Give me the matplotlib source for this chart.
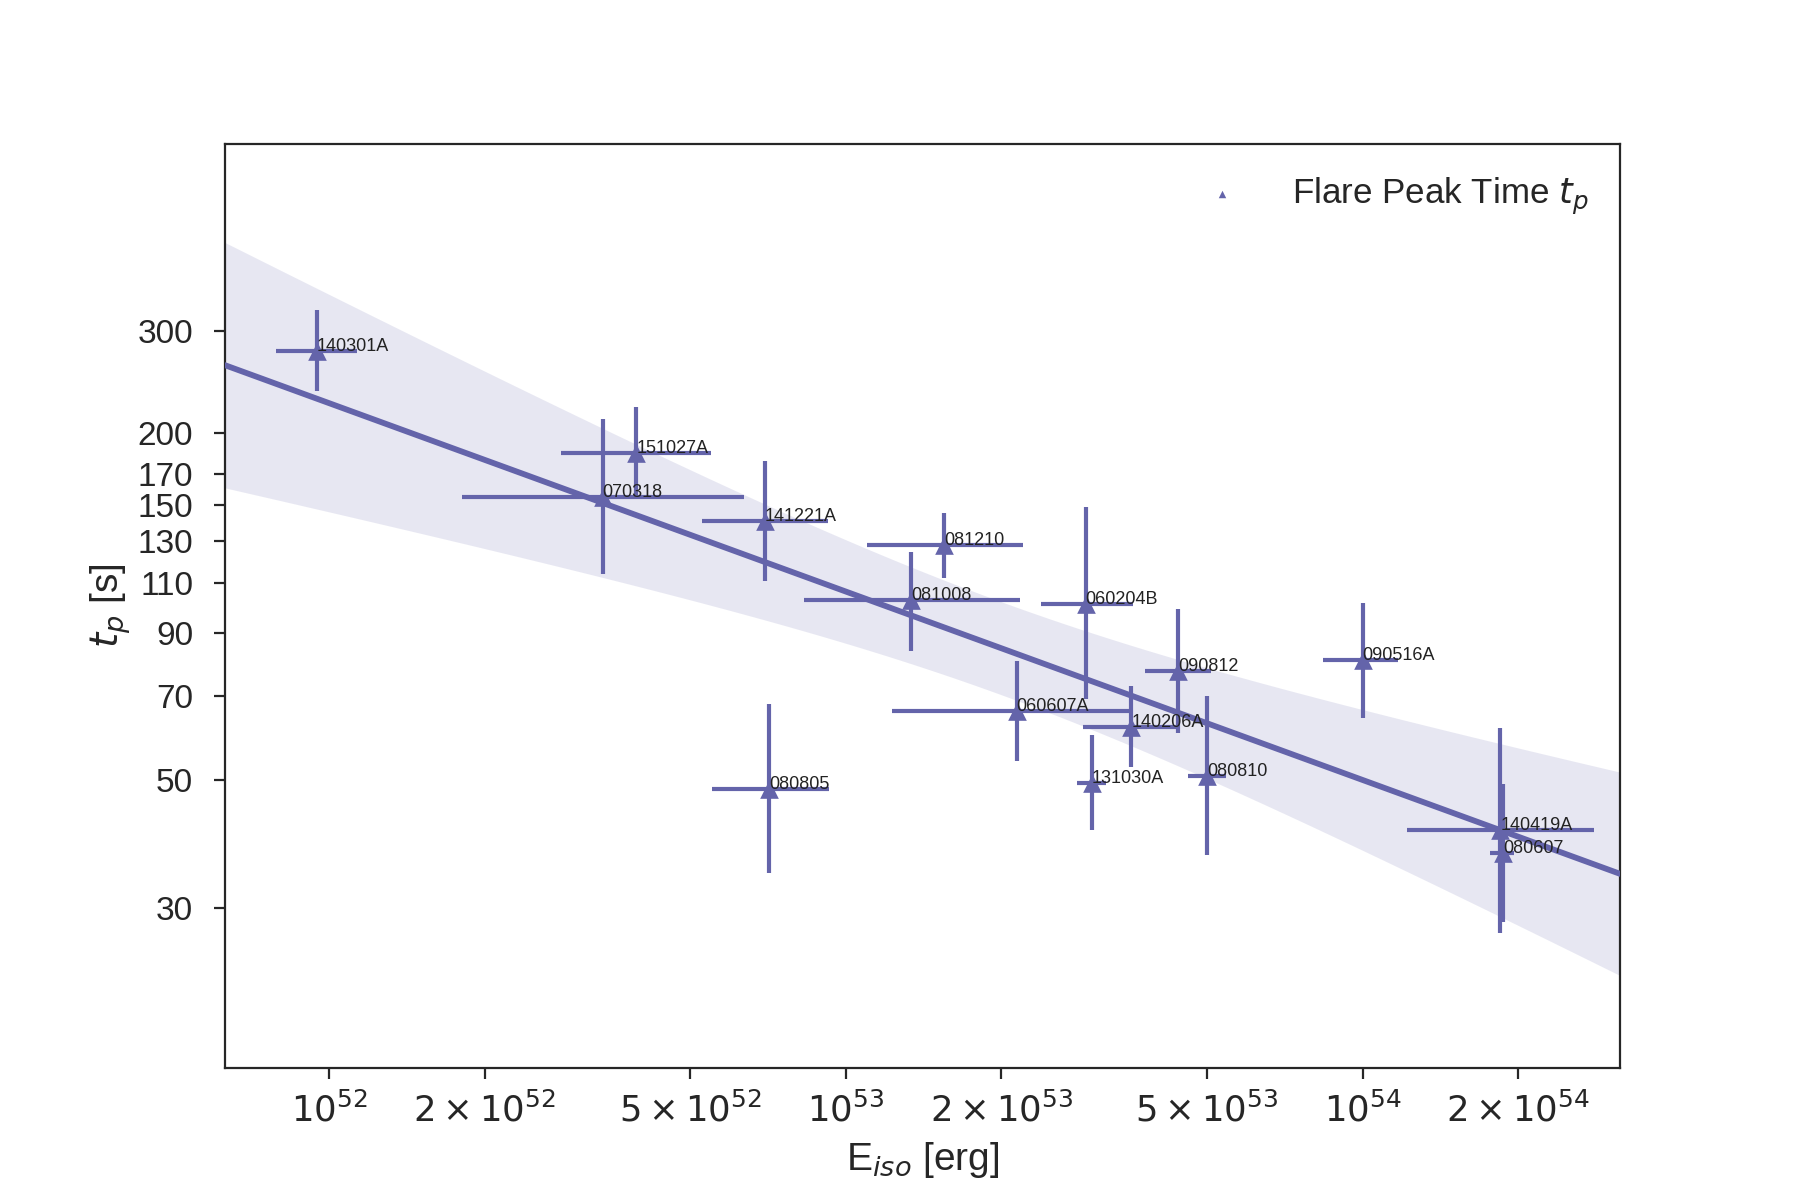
import numpy as np
import matplotlib
matplotlib.use("Agg")
import matplotlib.pyplot as plt
import seaborn as sns

names = ["140301A", "151027A", "070318", "141221A", "081210", "081008", "060204B", "090812",
         "090516A", "060607A", "140206A", "131030A", "080810", "080805", "140419A", "080607"]
eiso = [9.45e51, 3.93e52, 3.38e52, 6.97e52, 1.55e53, 1.336e53, 2.91e53, 4.39e53,
        1.0e54, 2.14e53, 3.57e53, 2.99e53, 5.0e53, 7.11e52, 1.847e54, 1.868e54]
eiso_lo = [7.9e51, 2.81e52, 1.81e52, 5.26e52, 1.10e53, 8.3e52, 2.39e53, 3.80e53,
           8.4e53, 1.23e53, 2.87e53, 2.8e53, 4.59e53, 5.5e52, 1.22e54, 1.766e54]
eiso_hi = [1.13e52, 5.48e52, 6.35e52, 9.24e52, 2.20e53, 2.17e53, 3.59e53, 5.08e53,
           1.17e54, 3.55e53, 4.40e53, 3.19e53, 5.43e53, 9.29e52, 2.81e54, 1.966e54]
tp = [277, 184.5, 155, 140.7, 127.8, 102.6, 101.2, 77.3,
      80.8, 65.9, 61.9, 49.4, 50.8, 48.3, 41.0, 37.4]
tp_lo = [236, 154, 114, 110.9, 111.9, 83.8, 69.2, 60.4,
         64.1, 54, 52.7, 41, 37.1, 34.6, 27.2, 28.4]
tp_hi = [327, 221.6, 211.7, 178.7, 145.4, 124.3, 148.7, 99,
         101.6, 80.4, 72.7, 60, 70.1, 67.9, 61.7, 49.2]

xticks = [1e52, 2e52, 5e52, 1e53, 2e53, 5e53, 1e54, 2e54]
xticklabels = [r"$10^{52}$", r"$2\times10^{52}$", r"$5\times10^{52}$", r"$10^{53}$",
               r"$2\times10^{53}$", r"$5\times10^{53}$", r"$10^{54}$", r"$2\times10^{54}$"]
yticks = [30, 50, 70, 90, 110, 130, 150, 170, 200, 300]

sns.set_style("ticks")
plt.rcParams["font.family"] = ["Liberation Sans", "DejaVu Sans"]
plt.rcParams["mathtext.fontset"] = "dejavusans"

color = "#6464aa"

fig, ax = plt.subplots(figsize=(9, 6), dpi=200)
fig.subplots_adjust(left=0.125, right=0.9, top=0.88, bottom=0.11)

x = np.array(eiso)
y = np.array(tp)
xerr = np.array([x - np.array(eiso_lo), np.array(eiso_hi) - x])
yerr = np.array([y - np.array(tp_lo), np.array(tp_hi) - y])

xlim = (6.28e51, 3.15e54)

# linear fit in log-log space with 95% confidence band
lx, ly = np.log10(x), np.log10(y)
n = len(lx)
b, a = np.polyfit(lx, ly, 1)
res = ly - (a + b * lx)
s = np.sqrt(np.sum(res ** 2) / (n - 2))
xm = lx.mean()
sxx = np.sum((lx - xm) ** 2)
tcrit = 2.145  # t_{0.975, 14}
gx = np.linspace(np.log10(xlim[0]), np.log10(xlim[1]), 200)
gy = a + b * gx
half = tcrit * s * np.sqrt(1.0 / n + (gx - xm) ** 2 / sxx)

ax.fill_between(10 ** gx, 10 ** (gy - half), 10 ** (gy + half), color=color, alpha=0.15,
                linewidth=0, zorder=1)
ax.errorbar(x, y, xerr=xerr, yerr=yerr, fmt="none", ecolor=color, elinewidth=1.5, zorder=2)
ax.scatter(x, y, marker="^", s=45, color=color, label=r"Flare Peak Time $t_p$", zorder=3,
           linewidths=0)
ax.plot(10 ** gx, 10 ** gy, color=color, lw=2.1, zorder=4)

for nm, xi, yi in zip(names, x, y):
    ax.text(xi, yi, nm, fontsize=6.5, color="#222222", ha="left", va="baseline", zorder=5)

ax.set_xscale("log")
ax.set_yscale("log")
ax.set_xlim(*xlim)
ax.set_ylim(15.86, 633.6)
ax.set_xticks(xticks)
ax.set_xticklabels(xticklabels)
ax.xaxis.set_minor_locator(matplotlib.ticker.NullLocator())
ax.set_yticks(yticks)
ax.set_yticklabels([str(v) for v in yticks])
ax.yaxis.set_minor_locator(matplotlib.ticker.NullLocator())
ax.tick_params(axis="x", labelsize=12.8, length=4, pad=5)
ax.tick_params(axis="y", labelsize=12, length=4, pad=7.5)

ax.set_xlabel(r"E$_{iso}$ [erg]", fontsize=14)
ax.set_ylabel(r"$t_p$ [s]", fontsize=14, labelpad=1.5)

leg = ax.legend(loc="upper right", frameon=False, fontsize=12.6, scatterpoints=1,
                markerscale=0.4, handletextpad=1.0)

fig.savefig("out.png", dpi=200)
